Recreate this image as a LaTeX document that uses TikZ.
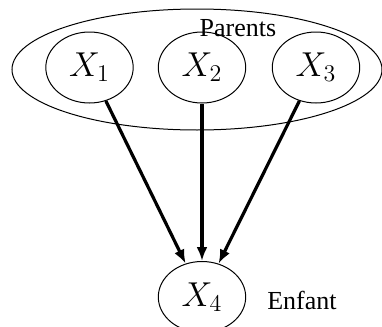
\documentclass[tikz,border=0pt]{standalone}
\usepackage{fontspec}
\setmainfont{Liberation Serif}
\usetikzlibrary{shapes.geometric,arrows.meta}

\begin{document}
\begin{tikzpicture}[
    x=0.5pt, y=-0.5pt,
    every node/.style={font=\fontsize{13}{15}\selectfont},
    var/.style={draw, ellipse, line width=0.5pt, inner sep=0pt, minimum width=43.7pt, minimum height=35.5pt, font=\fontsize{18}{20}\selectfont},
    grp/.style={draw, ellipse, line width=0.5pt, inner sep=0pt, minimum width=185pt, minimum height=60.5pt},
    arr/.style={-{Latex[length=7pt,width=5.5pt]}, line width=1.6pt}
]
\useasboundingbox (0,0) rectangle (382,327);
% parents group
\node[grp] (parents) at (197,69.5) {};
\node (plabel) at (238,28) {Parents};
\node[var] (x1) at (89.5,67.5) {$X_1$};
\node[var] (x2) at (202,67.5) {$X_2$};
\node[var] (x3) at (316,67.5) {$X_3$};
% child
\node[var] (x4) at (202,297) {$X_4$};
\node (clabel) at (302,300) {Enfant};

\draw[arr] (x1) -- (x4);
\draw[arr] (x2) -- (x4);
\draw[arr] (x3) -- (x4);
\end{tikzpicture}
\end{document}
